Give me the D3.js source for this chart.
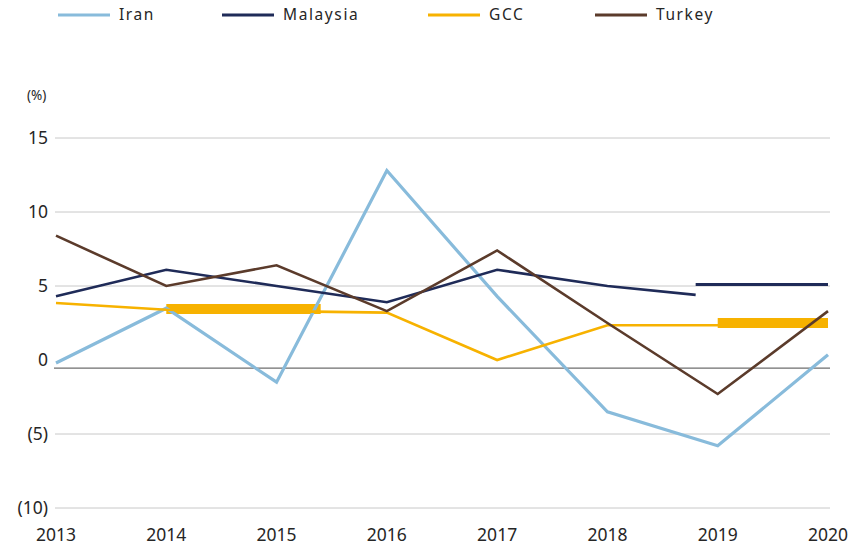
<!DOCTYPE html>
<html>
<head>
<meta charset="utf-8">
<script src="https://cdn.jsdelivr.net/npm/d3@7"></script>
<style>
  body { margin: 0; background: #fff; }
  svg { display: block; font-family: "Noto Sans", sans-serif; }
</style>
</head>
<body>
<svg width="854" height="550"></svg>
<script>
// values (%)
const years = [2013, 2014, 2015, 2016, 2017, 2018, 2019, 2020];
const iran = [-0.2, 3.5, -1.5, 12.8, 4.3, -3.5, -5.8, 0.35];
const malaysiaYears = [2013, 2014, 2015, 2016, 2017, 2018, 2018.8];
const malaysia = [4.3, 6.1, 5.0, 3.9, 6.1, 5.0, 4.4];
const gcc = [3.85, 3.4, 3.3, 3.2, 0.0, 2.35, 2.35, 2.4];
const turkey = [8.4, 5.0, 6.4, 3.3, 7.4, 2.5, -2.3, 3.3];

// period averages drawn as flat segments
const gccAvg = [{ from: 2014, to: 2015.4, value: 3.45 }, { from: 2019, to: 2020, value: 2.5 }];
const malaysiaAvg = [{ from: 2018.8, to: 2020, value: 5.1 }];

const yTicks = [15, 10, 5, 0, -5, -10];
const gridTicks = [15, 10, 5, -5, -10];
const seriesNames = ["Iran", "Malaysia", "GCC", "Turkey"];
const colors = { Iran: "#88bbdb", Malaysia: "#1f2b58", GCC: "#f7b200", Turkey: "#5b3b2b" };

const svg = d3.select("svg");

const x = d3.scaleLinear().domain([2013, 2020]).range([56, 828]);
const y = d3.scaleLinear().domain([-10, 15]).range([508, 138]);

// gridlines
svg.append("g")
  .selectAll("line")
  .data(gridTicks)
  .enter()
  .append("line")
  .attr("x1", 55).attr("x2", 830)
  .attr("y1", d => y(d)).attr("y2", d => y(d))
  .attr("stroke", "#c8c8c8")
  .attr("stroke-width", 1);

// category axis crosses a bit below zero
svg.append("line")
  .attr("x1", 54).attr("x2", 830)
  .attr("y1", y(-0.55)).attr("y2", y(-0.55))
  .attr("stroke", "#6e6e6e")
  .attr("stroke-width", 1.3);

// y tick labels
const fmt = d => d < 0 ? "(" + Math.abs(d) + ")" : String(d);
svg.append("g")
  .selectAll("text")
  .data(yTicks)
  .enter()
  .append("text")
  .attr("x", 48)
  .attr("y", d => y(d))
  .attr("dy", "0.35em")
  .attr("text-anchor", "end")
  .attr("font-size", 17.5)
  .attr("fill", "#262626")
  .text(fmt);

svg.append("text")
  .attr("x", 27).attr("y", 100)
  .attr("font-size", 13.5)
  .attr("fill", "#262626")
  .text("(%)");

// x labels
svg.append("g")
  .selectAll("text")
  .data(years)
  .enter()
  .append("text")
  .attr("x", d => x(d))
  .attr("y", 541)
  .attr("text-anchor", "middle")
  .attr("font-size", 17.5)
  .attr("fill", "#262626")
  .text(d => d);

// average bars
svg.append("g")
  .selectAll("line")
  .data(gccAvg)
  .enter()
  .append("line")
  .attr("x1", d => x(d.from)).attr("x2", d => x(d.to))
  .attr("y1", d => y(d.value)).attr("y2", d => y(d.value))
  .attr("stroke", colors.GCC)
  .attr("stroke-width", 10);

svg.append("g")
  .selectAll("line")
  .data(malaysiaAvg)
  .enter()
  .append("line")
  .attr("x1", d => x(d.from)).attr("x2", d => x(d.to))
  .attr("y1", d => y(d.value)).attr("y2", d => y(d.value))
  .attr("stroke", colors.Malaysia)
  .attr("stroke-width", 3);

// lines
const line = d3.line().x(d => x(d[0])).y(d => y(d[1]));
const series = [
  { name: "Iran", pts: d3.zip(years, iran), w: 3.2 },
  { name: "Malaysia", pts: d3.zip(malaysiaYears, malaysia), w: 2.6 },
  { name: "GCC", pts: d3.zip(years, gcc), w: 2.6 },
  { name: "Turkey", pts: d3.zip(years, turkey), w: 2.6 }
];

svg.append("g")
  .selectAll("path")
  .data(series)
  .enter()
  .append("path")
  .attr("d", d => line(d.pts))
  .attr("fill", "none")
  .attr("stroke", d => colors[d.name])
  .attr("stroke-width", d => d.w)
  .attr("stroke-linejoin", "miter");

// legend
const legendX = [58, 222, 428, 595];
const legend = svg.append("g")
  .selectAll("g")
  .data(seriesNames)
  .enter()
  .append("g")
  .attr("transform", (d, i) => `translate(${legendX[i]},15)`);

legend.append("line")
  .attr("x1", 0).attr("x2", 52)
  .attr("stroke", d => colors[d])
  .attr("stroke-width", 3);

legend.append("text")
  .attr("x", 61)
  .attr("dy", "0.35em")
  .attr("font-size", 15.5)
  .attr("letter-spacing", 1.6)
  .attr("fill", "#262626")
  .text(d => d);
</script>
</body>
</html>
